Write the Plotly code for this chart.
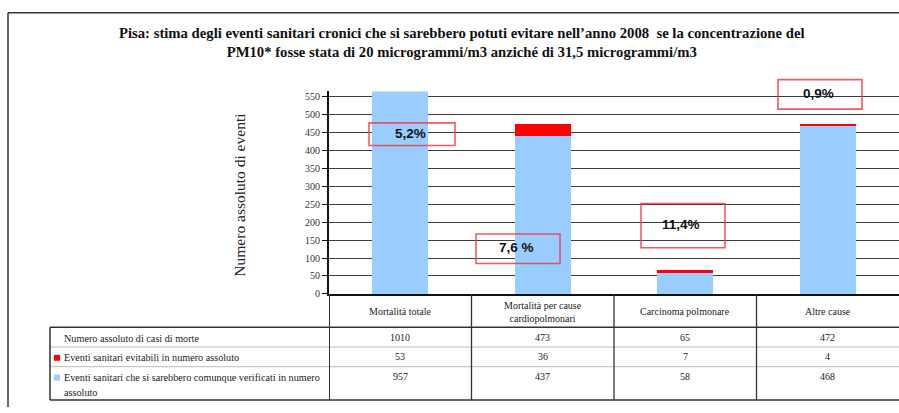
import plotly.graph_objects as go

# ---- data -------------------------------------------------------------
categories = ["Mortalità totale", "Mortalità per cause cardiopolmonari",
              "Carcinoma polmonare", "Altre cause"]
category_labels = ["Mortalità totale", "Mortalità per cause<br>cardiopolmonari",
                   "Carcinoma polmonare", "Altre cause"]
total_deaths = [1010, 473, 65, 472]          # Numero assoluto di casi di morte
avoidable = [53, 36, 7, 4]                   # Eventi sanitari evitabili
occurring_anyway = [957, 437, 58, 468]       # Eventi che si sarebbero comunque verificati
pct_labels = ["5,2%", "7,6 %", "11,4%", "0,9%"]

row_labels = [["Numero assoluto di casi di morte"],
              ["Eventi sanitari evitabili in numero assoluto"],
              ["Eventi sanitari che si sarebbero comunque verificati in numero", "assoluto"]]

title_text = ("Pisa: stima degli eventi sanitari cronici che si sarebbero potuti evitare "
              "nell’anno 2008  se la concentrazione del<br>PM10* fosse stata di 20 "
              "microgrammi/m3 anziché di 31,5 microgrammi/m3")

# ---- styling ----------------------------------------------------------
W, H = 899, 413
BLUE = "#99CCFF"
RED = "#FF0000"
BOX = "rgba(240,60,70,0.85)"
SERIF = "Liberation Serif, Times New Roman, serif"
SANS = "Liberation Sans, Arial, sans-serif"


def px(x):
    return x / W


def py(y):
    return 1 - y / H


fig = go.Figure()
fig.add_trace(go.Bar(x=categories, y=occurring_anyway, marker=dict(color=BLUE, line_width=0),
                     width=0.39, hoverinfo="y"))
fig.add_trace(go.Bar(x=categories, y=avoidable, marker=dict(color=RED, line_width=0),
                     width=0.39, hoverinfo="y"))

shapes = []
annotations = []

# outer frame (left and top edges)
shapes.append(dict(type="line", xref="paper", yref="paper", x0=px(8), x1=1.0, y0=py(12), y1=py(12),
                   line=dict(color="#333", width=1.5)))
shapes.append(dict(type="line", xref="paper", yref="paper", x0=px(8), x1=px(8), y0=py(12), y1=0,
                   line=dict(color="#333", width=1.5)))

# title
annotations.append(dict(text="<b>%s</b>" % title_text, xref="paper", yref="paper",
                        x=px(462), y=py(42), showarrow=False, xanchor="center",
                        yanchor="middle", font=dict(family=SERIF, size=14.7, color="#111"),
                        align="center"))

# y-axis title
annotations.append(dict(text="Numero assoluto di eventi", xref="paper", yref="paper",
                        x=px(240), y=py(197), xanchor="center", yanchor="middle",
                        textangle=-90, showarrow=False,
                        font=dict(family=SERIF, size=15.5, color="#222")))

# percentage boxes (pixel boxes and text centres)
pct_boxes = [(369, 124, 455, 147), (476, 237, 560, 267), (641, 206, 725, 251), (778, 80, 862, 110)]
for label, (x0, y0, x1, y1) in zip(pct_labels, pct_boxes):
    shapes.append(dict(type="rect", xref="paper", yref="paper", x0=px(x0), x1=px(x1),
                       y0=py(y1), y1=py(y0), line=dict(color=BOX, width=1.6),
                       fillcolor="rgba(0,0,0,0)"))
    annotations.append(dict(text="<b>%s</b>" % label, xref="paper", yref="paper",
                            x=px((x0 + x1) / 2 - 2), y=py((y0 + y1) / 2 - 1),
                            xanchor="center", yanchor="middle", showarrow=False,
                            font=dict(family=SANS, size=13.5, color="#111")))

# data table beneath the plot
T_TOP, T_ROW1, T_ROW2, T_BOT = 332, 352, 372, 406
AXIS_Y = 298
for yy, col, w in [(T_TOP, "#333", 1.5), (T_ROW1, "#bbb", 1), (T_ROW2, "#bbb", 1), (T_BOT, "#333", 1.5)]:
    shapes.append(dict(type="line", xref="paper", yref="paper", x0=px(50), x1=1.0,
                       y0=py(yy), y1=py(yy), line=dict(color=col, width=w)))
shapes.append(dict(type="line", xref="paper", yref="paper", x0=px(50), x1=px(50),
                   y0=py(T_TOP), y1=py(T_BOT), line=dict(color="#333", width=1.5)))
for i in range(len(categories)):
    shapes.append(dict(type="line", xref="x", yref="paper", x0=i - 0.5, x1=i - 0.5,
                       y0=py(AXIS_Y), y1=py(T_BOT),
                       line=dict(color="#333", width=2 if i == 0 else 1.3)))

for cat, lab in zip(categories, category_labels):
    annotations.append(dict(text=lab, xref="x", yref="paper", x=cat, y=py(316),
                            showarrow=False, xanchor="center", yanchor="middle",
                            font=dict(family=SERIF, size=10, color="#222")))

row_y = [343, 363, 383]
for lines, yy in zip(row_labels, row_y):
    for k, line in enumerate(lines):
        annotations.append(dict(text=line, xref="paper", yref="paper", x=px(62),
                                y=py(yy + 15 * k), showarrow=False, xanchor="left",
                                yanchor="middle", font=dict(family=SERIF, size=10.2, color="#222")))
# legend keys in the table
for yy, col in [(363, RED), (383, BLUE)]:
    shapes.append(dict(type="rect", xref="paper", yref="paper", x0=px(54), x1=px(60),
                       y0=py(yy + 3), y1=py(yy - 3), line_width=0, fillcolor=col))

for series, yy in zip([total_deaths, avoidable, occurring_anyway], row_y):
    for cat, v in zip(categories, series):
        annotations.append(dict(text=str(v), xref="x", yref="paper", x=cat, y=py(yy - 1),
                                showarrow=False, xanchor="center", yanchor="middle",
                                font=dict(family=SERIF, size=10, color="#222")))

fig.update_layout(
    width=W, height=H, margin=dict(l=0, r=0, t=0, b=0),
    paper_bgcolor="white", plot_bgcolor="white",
    barmode="stack", bargap=0, showlegend=False,
    shapes=shapes, annotations=annotations,
    xaxis=dict(domain=[px(329), 1.0], range=[-0.5, 3.5], showticklabels=False,
               showline=True, linecolor="#111", linewidth=2, ticks="", showgrid=False,
               fixedrange=True),
    yaxis=dict(domain=[py(AXIS_Y), py(92)], range=[0, 563.6], tick0=0, dtick=50,
               showgrid=True, gridcolor="#3c3c3c", gridwidth=1.3,
               zeroline=False, showline=True, linecolor="#111", linewidth=2,
               ticks="outside", ticklen=5, tickcolor="#111",
               tickfont=dict(family=SERIF, size=10, color="#333"), fixedrange=True),
)

fig.write_html("out.html")
